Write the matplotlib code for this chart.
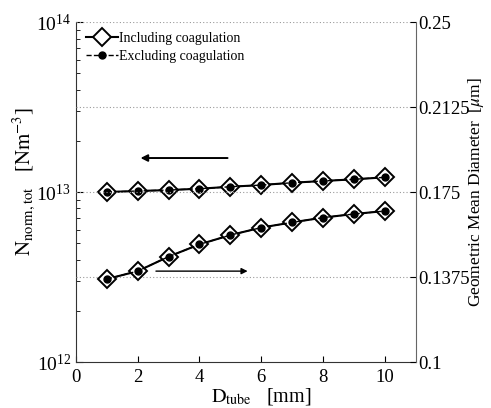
import numpy as np
import matplotlib
matplotlib.use("Agg")
import matplotlib.pyplot as plt
from matplotlib.lines import Line2D

plt.rcParams['font.family'] = ['Liberation Serif', 'DejaVu Serif']
plt.rcParams['mathtext.fontset'] = 'stix'

# data
d_tube = [1, 2, 3, 4, 5, 6, 7, 8, 9, 10]
n_incl = [1.00e13, 1.014e13, 1.027e13, 1.046e13, 1.074e13, 1.099e13, 1.134e13, 1.161e13, 1.188e13, 1.22e13]
n_excl = [1.00e13, 1.014e13, 1.027e13, 1.046e13, 1.074e13, 1.099e13, 1.134e13, 1.161e13, 1.188e13, 1.22e13]
gmd_incl = [0.1366, 0.1401, 0.1465, 0.1519, 0.1560, 0.1593, 0.1616, 0.1637, 0.1653, 0.1666]
gmd_excl = [0.1366, 0.1401, 0.1465, 0.1519, 0.1560, 0.1593, 0.1616, 0.1637, 0.1653, 0.1666]
right_ticks = [0.1, 0.1375, 0.175, 0.2125, 0.25]
right_labels = ['0.1', '0.1375', '0.175', '0.2125', '0.25']
legend_labels = ['Including coagulation', 'Excluding coagulation']

fig = plt.figure(figsize=(4.91, 4.08), dpi=100)
ax = fig.add_axes([0.1548, 0.1127, 0.6915, 0.8333])
ax2 = ax.twinx()

ax.set_yscale('log')
ax.set_ylim(1e12, 1e14)
ax.set_xlim(0, 11)
ax2.set_ylim(0.1, 0.25)

# dotted grid at the right-axis ticks
for t in right_ticks[1:]:
    ax2.axhline(t, color='#999999', ls=(0, (1, 2)), lw=0.8, zorder=0)

diam = dict(marker='D', ms=9, mfc='white', mec='black', mew=1.4, color='black', lw=1.5)
dots = dict(marker='o', ms=5, mfc='black', mec='black', color='black', lw=1.0, ls='--')

ax.plot(d_tube, n_incl, **diam, zorder=3)
ax.plot(d_tube, n_excl, **dots, zorder=4)
ax2.plot(d_tube, gmd_incl, **diam, zorder=3)
ax2.plot(d_tube, gmd_excl, **dots, zorder=4)

# arrows pointing at each axis
ax.annotate('', xy=(2.0, 1.585e13), xytext=(5.0, 1.585e13),
            arrowprops=dict(arrowstyle='-|>', color='black', lw=1.4, mutation_scale=10))
ax2.annotate('', xy=(5.65, 0.1401), xytext=(2.5, 0.1401),
             arrowprops=dict(arrowstyle='-|>', color='black', lw=1.0, mutation_scale=9))

ax.set_xticks([0, 2, 4, 6, 8, 10])
ax.tick_params(axis='x', direction='in', length=4, labelsize=13.5, pad=5)
ax.tick_params(axis='y', which='both', direction='in', labelsize=14)
ax.tick_params(axis='y', which='major', length=5)
ax.tick_params(axis='y', which='minor', length=3)
ax2.set_yticks(right_ticks)
ax2.set_yticklabels(right_labels)
ax2.tick_params(axis='y', direction='in', length=4, labelsize=13.5, pad=2)

for a in (ax, ax2):
    a.spines['top'].set_visible(False)
ax.spines['left'].set_color('#333333')
ax.spines['bottom'].set_color('#333333')
ax2.spines['left'].set_visible(False)
ax2.spines['bottom'].set_visible(False)
ax2.spines['right'].set_color('#666666')
ax.spines['right'].set_visible(False)

ax.set_xlabel(r'$\mathrm{D_{tube}}$   [mm]', fontsize=14.5, labelpad=0)
ax.xaxis.set_label_coords(0.545, -0.072)
ax.set_ylabel(r'$\mathrm{N_{norm,tot}}$   [$\mathrm{Nm^{-3}}$]', fontsize=15)
ax.yaxis.set_label_coords(-0.115, 0.53)
ax2.set_ylabel(r'Geometric Mean Diameter  [$\mu$m]', fontsize=12.5)
ax2.yaxis.set_label_coords(1.15, 0.5)

h1 = Line2D([], [], **diam)
h2 = Line2D([], [], **dots)
ax2.legend([h1, h2], legend_labels, loc='upper left', frameon=False, fontsize=10,
           handlelength=2.3, handletextpad=0.1, borderaxespad=0.3,
           labelspacing=0.35, bbox_to_anchor=(0.0, 1.0))

fig.savefig('out.png', dpi=100)
